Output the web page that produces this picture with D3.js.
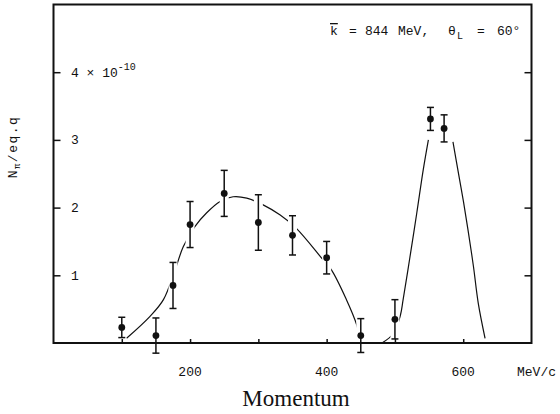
<!DOCTYPE html>
<html>
<head>
<meta charset="utf-8">
<script src="https://cdn.jsdelivr.net/npm/d3@7"></script>
<style>
  html, body { margin: 0; padding: 0; background: #fff; }
  svg { display: block; }
  .mono { font-family: "Liberation Mono", "DejaVu Sans Mono", monospace; fill: #111; }
  .serif { font-family: "Liberation Serif", "DejaVu Serif", serif; fill: #111; }
</style>
</head>
<body>
<svg id="chart" width="560" height="414"></svg>
<script>
// Measured pion yield per equivalent quantum vs. momentum (units of 1e-10)
const momentum = [100, 150, 175, 200, 250, 300, 350, 400, 450, 500, 552, 572];
const yieldVal = [0.23, 0.11, 0.85, 1.75, 2.21, 1.78, 1.59, 1.26, 0.11, 0.35, 3.31, 3.17];
const yieldErr = [0.15, 0.26, 0.34, 0.34, 0.34, 0.41, 0.29, 0.24, 0.25, 0.29, 0.17, 0.20];

// Hand-drawn guide curves: broad low-momentum hump, and the two flanks of the high-momentum peak
const humpMomentum = [107, 141, 161, 178, 190, 207, 224, 244, 263, 283, 307, 332, 356, 393, 407, 429, 444, 446];
const humpValue    = [0.07, 0.39, 0.64, 1.08, 1.42, 1.72, 1.92, 2.09, 2.16, 2.14, 2.04, 1.89, 1.69, 1.25, 1.08, 0.64, 0.27, 0.19];
const riseMomentum = [481, 498, 508, 512, 522, 532, 541.5, 549];
const riseValue    = [0.0, 0.14, 0.41, 0.64, 1.27, 1.92, 2.56, 3.0];
const fallMomentum = [585, 593, 600, 607, 615, 622, 632];
const fallValue    = [2.97, 2.51, 2.11, 1.67, 1.13, 0.59, 0.07];

// Axis ticks
const xTicks = [100, 200, 300, 400, 500, 600];
const xTickLabels = [200, 400, 600];
const yTicks = [1, 2, 3, 4];

const svg = d3.select("#chart");
const frameL = 53.5, frameR = 531.5, frameT = 4.5, frameB = 343;

const x = d3.scaleLinear().domain([0, 700]).range([frameL, frameR]);
const y = d3.scaleLinear().domain([0, 5]).range([frameB, frameT]);

const ink = "#111";

// Guide curves
const line = d3.line().x(d => x(d[0])).y(d => y(d[1])).curve(d3.curveCatmullRom.alpha(0.5));
const curves = [
  d3.zip(humpMomentum, humpValue),
  d3.zip(riseMomentum, riseValue),
  d3.zip(fallMomentum, fallValue)
];
svg.append("g").selectAll("path").data(curves).join("path")
  .attr("d", line)
  .attr("fill", "none")
  .attr("stroke", ink)
  .attr("stroke-width", 1.2);

const points = momentum.map((m, i) => ({ m, v: yieldVal[i], e: yieldErr[i] }));

// Curves are broken where they pass behind an error bar
svg.append("g").selectAll("rect").data(points).join("rect")
  .attr("x", d => x(d.m) - 4.5)
  .attr("width", 9)
  .attr("y", d => y(d.v + d.e) - 1)
  .attr("height", d => y(d.v - d.e) - y(d.v + d.e) + 4)
  .attr("fill", "#fff");

// Frame
svg.append("rect")
  .attr("x", frameL).attr("y", frameT)
  .attr("width", frameR - frameL).attr("height", frameB - frameT)
  .attr("fill", "none").attr("stroke", ink).attr("stroke-width", 2);

// Inward ticks: left and right y ticks, bottom x ticks
const leftAxis = d3.axisRight(y).tickValues(yTicks).tickSize(7).tickFormat("");
svg.append("g").attr("transform", `translate(${frameL},0)`).call(leftAxis)
  .call(g => g.select(".domain").remove())
  .call(g => g.selectAll("line").attr("stroke", ink).attr("stroke-width", 1.5));
const rightAxis = d3.axisLeft(y).tickValues(yTicks).tickSize(7).tickFormat("");
svg.append("g").attr("transform", `translate(${frameR},0)`).call(rightAxis)
  .call(g => g.select(".domain").remove())
  .call(g => g.selectAll("line").attr("stroke", ink).attr("stroke-width", 1.5));
const bottomAxis = d3.axisTop(x).tickValues(xTicks).tickSize(4).tickFormat("");
svg.append("g").attr("transform", `translate(0,${frameB})`).call(bottomAxis)
  .call(g => g.select(".domain").remove())
  .call(g => g.selectAll("line").attr("stroke", ink).attr("stroke-width", 1.5));

// Error bars with caps
const eb = svg.append("g").attr("stroke", ink).attr("stroke-width", 1.5);
eb.selectAll("line.v").data(points).join("line").attr("class", "v")
  .attr("x1", d => x(d.m)).attr("x2", d => x(d.m))
  .attr("y1", d => y(d.v + d.e)).attr("y2", d => y(d.v - d.e));
eb.selectAll("line.t").data(points).join("line").attr("class", "t")
  .attr("x1", d => x(d.m) - 3.5).attr("x2", d => x(d.m) + 3.5)
  .attr("y1", d => y(d.v + d.e)).attr("y2", d => y(d.v + d.e));
eb.selectAll("line.b").data(points).join("line").attr("class", "b")
  .attr("x1", d => x(d.m) - 3.5).attr("x2", d => x(d.m) + 3.5)
  .attr("y1", d => y(d.v - d.e)).attr("y2", d => y(d.v - d.e));

// Data markers
svg.append("g").selectAll("circle").data(points).join("circle")
  .attr("cx", d => x(d.m)).attr("cy", d => y(d.v))
  .attr("r", 3.4).attr("fill", ink);

// Y tick labels (inside the frame)
const yl = svg.append("g").attr("class", "mono").style("font-size", "13px");
yTicks.forEach(t => {
  const txt = yl.append("text").attr("x", 71).attr("y", y(t) + 4.5).style("white-space", "pre");
  if (t === 4) {
    txt.append("tspan").text("4 \u00d7 10");
    txt.append("tspan").attr("dy", -7).style("font-size", "10px").text("-10");
  } else {
    txt.text(String(t));
  }
});

// X tick labels and unit
const xl = svg.append("g").attr("class", "mono").style("font-size", "13px");
xl.selectAll("text.tick").data(xTickLabels).join("text").attr("class", "tick")
  .attr("x", d => x(d)).attr("y", 376).attr("text-anchor", "middle").text(d => d);
xl.append("text").attr("x", 517).attr("y", 376).text("MeV/c");

// Axis titles
svg.append("text").attr("class", "serif")
  .attr("x", 296).attr("y", 406).attr("text-anchor", "middle")
  .style("font-size", "23px").text("Momentum");

const ylab = svg.append("text").attr("class", "mono")
  .attr("transform", "translate(17,147) rotate(-90)")
  .attr("text-anchor", "middle").style("font-size", "13px").style("letter-spacing", "1.5px");
ylab.append("tspan").text("N");
ylab.append("tspan").attr("dy", 3).style("font-size", "9px").text("\u03c0");
ylab.append("tspan").attr("dy", -3).text("/eq.q");

// Beam condition annotation
const ann = svg.append("g").attr("class", "mono").style("font-size", "13px");
const annY = 35;
ann.append("text").attr("x", 330).attr("y", annY).style("text-decoration", "overline").text("k");
ann.append("text").attr("x", 349).attr("y", annY).text("=");
ann.append("text").attr("x", 365).attr("y", annY).text("844");
ann.append("text").attr("x", 398).attr("y", annY).text("MeV,");
ann.append("text").attr("x", 448).attr("y", annY).text("\u03b8");
ann.append("text").attr("x", 457).attr("y", annY + 4).style("font-size", "10px").text("L");
ann.append("text").attr("x", 477).attr("y", annY).text("=");
ann.append("text").attr("x", 497).attr("y", annY).text("60\u00b0");
</script>
</body>
</html>
